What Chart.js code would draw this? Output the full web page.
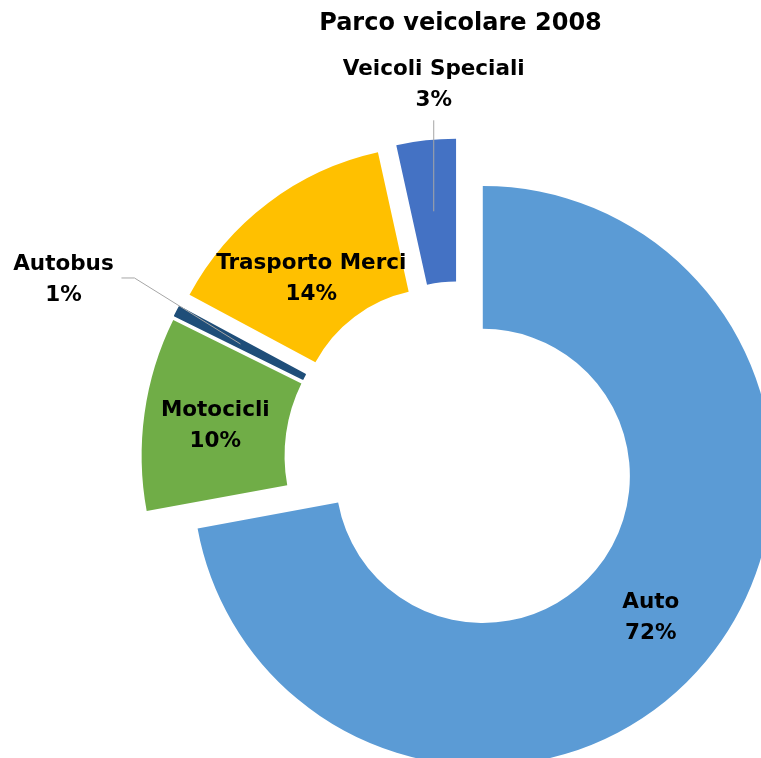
<!DOCTYPE html>
<html>
<head>
<meta charset="utf-8">
<script src="https://cdn.jsdelivr.net/npm/chart.js@4/dist/chart.umd.min.js"></script>
<style>
  html, body { margin: 0; padding: 0; background: #ffffff; overflow: hidden; width: 761px; height: 758px; }
  #wrap { position: absolute; left: 0; top: 0; width: 921px; height: 867px; }
  canvas { display: block; }
</style>
</head>
<body>
<div id="wrap"><canvas id="c" width="921" height="867"></canvas></div>
<script>
// ---- data ----
const categories = ['Auto', 'Motocicli', 'Autobus', 'Trasporto Merci', 'Veicoli Speciali'];
const shares = [72.1, 10.2, 0.55, 13.7, 3.45];
const titleText = 'Parco veicolare 2008';

// ---- styling ----
const colors = ['#5B9BD5', '#70AD47', '#1F4E79', '#FFC000', '#4472C4'];
const borderWidths = [0, 0, 1.5, 0, 0];
const explode = [29, 13, 25, 36, 41];           // Excel-like point explosion (px)
const labelNudge = [[0, 0], [0, 0], [-177, -66], [0, 17], [0, -129]];
const leaderKind = [null, null, 'left', null, 'up'];
const FONT = "'DejaVu Sans', 'Liberation Sans', sans-serif";

// Exploded slices: move outward along their bisector and shrink so they stay in the ring's outer circle
const explodePlugin = {
  id: 'explode',
  afterDatasetsUpdate(chart) {
    const meta = chart.getDatasetMeta(0);
    meta.data.forEach((arc, i) => {
      const d = explode[i] || 0;
      const mid = (arc.startAngle + arc.endAngle) / 2;
      arc.x += Math.cos(mid) * d;
      arc.y += Math.sin(mid) * d;
      arc.outerRadius -= d;
      arc.innerRadius -= d;
    });
  }
};

const labelPlugin = {
  id: 'sliceLabels',
  afterDatasetsDraw(chart) {
    const ctx = chart.ctx;
    const meta = chart.getDatasetMeta(0);
    const data = chart.data.datasets[0].data;
    const total = data.reduce((a, b) => a + b, 0);
    const size = 21.5, gap = 31, cap = size * 0.729;
    ctx.save();
    meta.data.forEach((arc, i) => {
      const p = arc.getCenterPoint();
      const lx = p.x + labelNudge[i][0];
      const ly = p.y + labelNudge[i][1];
      if (leaderKind[i]) {
        ctx.beginPath();
        ctx.strokeStyle = '#A6A6A6';
        ctx.lineWidth = 1;
        ctx.moveTo(p.x, p.y);
        if (leaderKind[i] === 'left') {
          ctx.lineTo(lx + 71, ly);
          ctx.lineTo(lx + 58, ly);
        } else {
          ctx.lineTo(p.x, ly + 38);
        }
        ctx.stroke();
      }
      ctx.fillStyle = '#000000';
      ctx.font = 'bold ' + size + 'px ' + FONT;
      ctx.textAlign = 'center';
      ctx.textBaseline = 'alphabetic';
      ctx.fillText(chart.data.labels[i], lx, ly - gap / 2 + cap / 2);
      ctx.fillText(Math.round(data[i] / total * 100) + '%', lx, ly + gap / 2 + cap / 2);
    });
    ctx.restore();
  }
};

new Chart(document.getElementById('c'), {
  type: 'doughnut',
  data: {
    labels: categories,
    datasets: [{
      data: shares,
      backgroundColor: colors,
      borderColor: colors,
      borderWidth: borderWidths,
      borderJoinStyle: 'round'
    }]
  },
  options: {
    responsive: false,
    animation: false,
    events: [],
    devicePixelRatio: 1,
    radius: 319,
    cutout: '55.2%',
    layout: { padding: 0 },
    plugins: {
      legend: { display: false },
      tooltip: { enabled: false },
      title: {
        display: true,
        text: titleText,
        color: '#000000',
        font: { family: FONT, size: 24, weight: 'bold', lineHeight: 1.2 },
        padding: { top: 9, bottom: 10 }
      }
    }
  },
  plugins: [explodePlugin, labelPlugin]
});
</script>
</body>
</html>
